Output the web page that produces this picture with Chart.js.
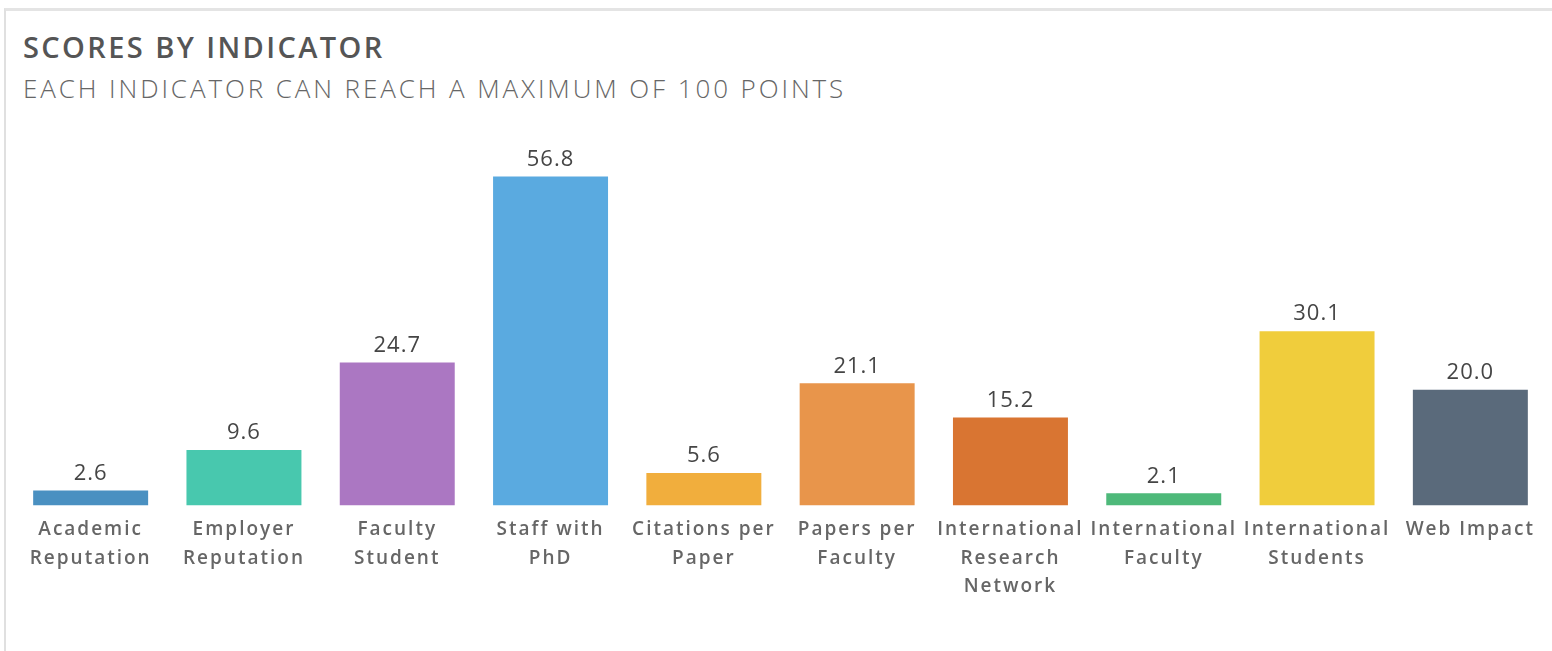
<!DOCTYPE html>
<html>
<head>
<meta charset="utf-8">
<script src="https://cdn.jsdelivr.net/npm/chart.js@4"></script>
<style>
  html, body { margin: 0; padding: 0; background: #fff; width: 1552px; height: 651px; overflow: hidden; }
  .frame { position: absolute; left: 4px; top: 8px; width: 2000px; height: 1000px;
           border-top: 3px solid #e4e4e4; border-left: 2px solid #e0e0e0; }
  .title { position: absolute; left: 23px; top: 29px; font-family: "Open Sans", sans-serif;
           font-weight: 600; font-size: 29px; letter-spacing: 2.4px; color: #555; line-height: 36px; white-space: nowrap; }
  .subtitle { position: absolute; left: 23px; top: 70px; font-family: "Open Sans", sans-serif;
           font-weight: 300; font-size: 26px; letter-spacing: 2.9px; color: #666; line-height: 36px; white-space: nowrap; }
  #wrap { position: absolute; left: 0; top: 0; width: 1552px; height: 651px; }
</style>
</head>
<body>
<div class="frame"></div>
<div class="title">SCORES BY INDICATOR</div>
<div class="subtitle">EACH INDICATOR CAN REACH A MAXIMUM OF 100 POINTS</div>
<div id="wrap"><canvas id="c"></canvas></div>
<script>
const categories = [
  ["Academic", "Reputation"],
  ["Employer", "Reputation"],
  ["Faculty", "Student"],
  ["Staff with", "PhD"],
  ["Citations per", "Paper"],
  ["Papers per", "Faculty"],
  ["International", "Research", "Network"],
  ["International", "Faculty"],
  ["International", "Students"],
  ["Web Impact"]
];
const scores = [2.6, 9.6, 24.7, 56.8, 5.6, 21.1, 15.2, 2.1, 30.1, 20.0];
const barColors = ["#4a90c1", "#48c8ae", "#ab77c2", "#5aaae0", "#f1ae3d",
                   "#e8954b", "#d97532", "#4eb97a", "#f0cd3c", "#5a6a7b"];

const valueLabels = {
  id: "valueLabels",
  afterDatasetsDraw(chart) {
    const ctx = chart.ctx;
    const meta = chart.getDatasetMeta(0);
    ctx.save();
    ctx.font = "400 22px 'Open Sans', sans-serif";
    ctx.fillStyle = "#454545";
    ctx.textAlign = "center";
    ctx.textBaseline = "bottom";
    try { ctx.letterSpacing = "1px"; } catch (e) {}
    meta.data.forEach((bar, i) => {
      ctx.fillText(scores[i].toFixed(1), bar.x, bar.y - 6);
    });
    ctx.restore();
  }
};
const spacing = {
  id: "spacing",
  beforeUpdate(chart) { try { chart.ctx.letterSpacing = "2px"; } catch (e) {} },
  beforeDraw(chart) { try { chart.ctx.letterSpacing = "2px"; } catch (e) {} }
};

new Chart(document.getElementById("c"), {
  type: "bar",
  data: {
    labels: categories,
    datasets: [{
      data: scores,
      backgroundColor: barColors,
      borderWidth: 0,
      barPercentage: 0.75,
      categoryPercentage: 1.0
    }]
  },
  options: {
    responsive: true,
    maintainAspectRatio: false,
    animation: false,
    layout: { padding: { left: 14, right: 5, top: 129, bottom: 40 } },
    plugins: { legend: { display: false }, tooltip: { enabled: false } },
    scales: {
      x: {
        grid: { display: false, drawTicks: false },
        border: { display: false },
        ticks: {
          autoSkip: false, maxRotation: 0, minRotation: 0, padding: 10,
          color: "#666",
          font: { family: "'Open Sans', sans-serif", size: 19, weight: "600", lineHeight: 1.5 }
        }
      },
      y: { display: false, min: 0, max: 65 }
    }
  },
  plugins: [spacing, valueLabels]
});
</script>
</body>
</html>
